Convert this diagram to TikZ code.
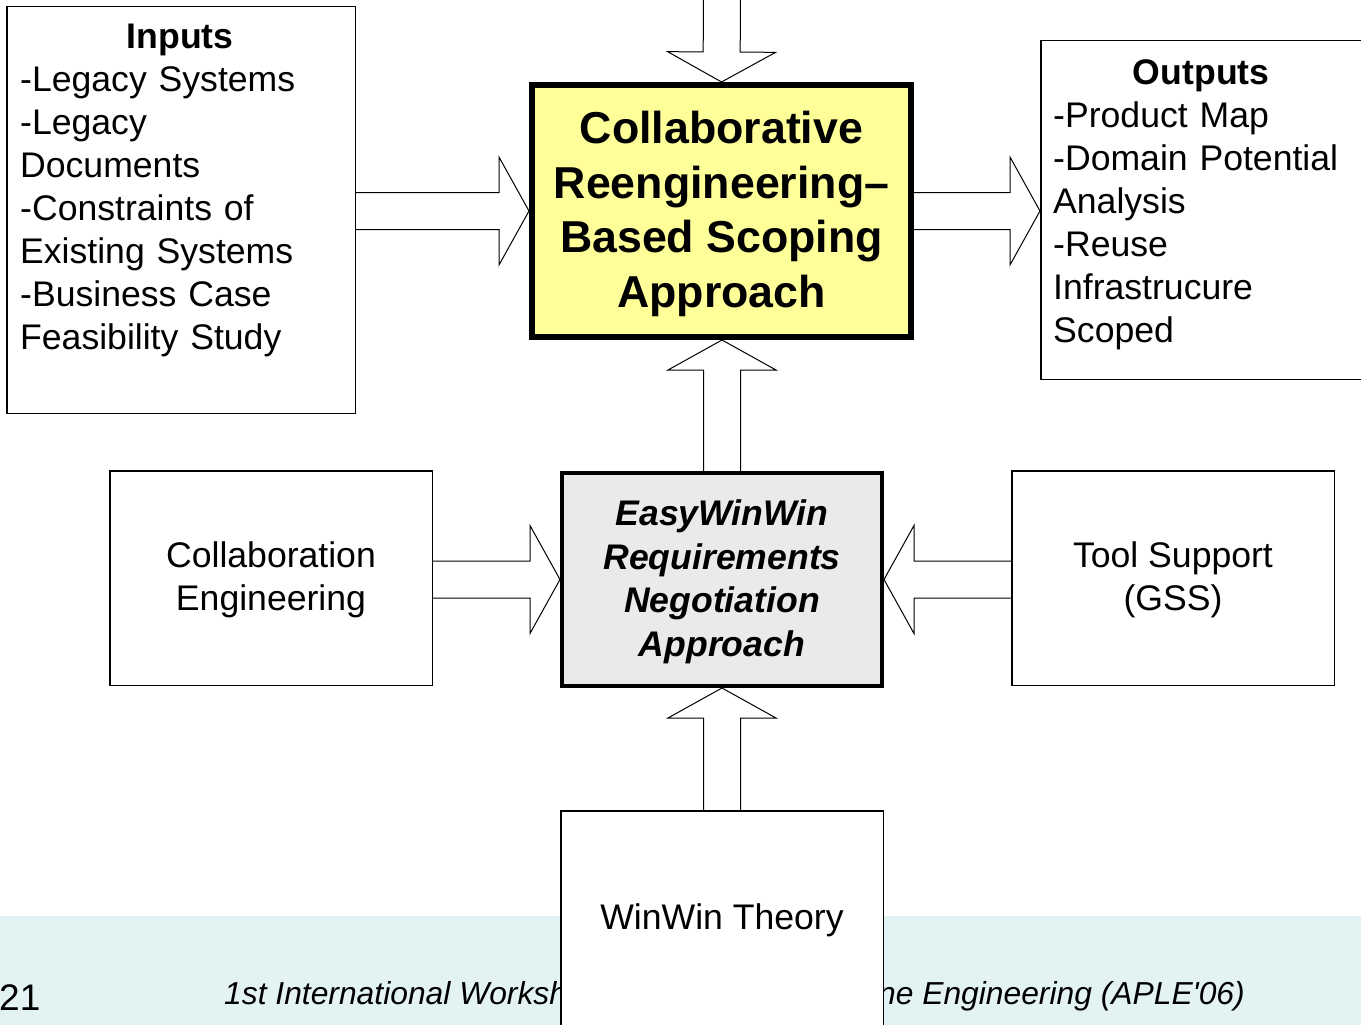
\documentclass[tikz,border=0pt]{standalone}
\usepackage{fontspec}
\setmainfont{Liberation Sans}[Ligatures=TeXOff]
\usetikzlibrary{calc,positioning,backgrounds}
\definecolor{colyel}{RGB}{255,255,153}
\definecolor{colgry}{RGB}{234,234,234}
\definecolor{colfoot}{RGB}{227,242,243}
\tikzstyle{box}=[draw, line width=1.5pt, fill=white, inner sep=0pt, align=center, font=\fontsize{35.6}{43}\selectfont]
\tikzstyle{core}=[draw, line width=6pt, fill=colyel, align=center, font=\bfseries\fontsize{44.7}{54.5}\selectfont]
\tikzstyle{nego}=[draw, line width=4pt, fill=colgry, align=center, font=\bfseries\itshape\fontsize{35.6}{43.6}\selectfont]
\tikzstyle{txt}=[inner sep=0pt, align=left, font=\fontsize{35.6}{43}\selectfont]
\tikzstyle{fat}=[draw, fill=white, line width=1pt, line join=miter]
\newcommand{\topstrut}[1]{\rule{0pt}{#1pt}}
% block arrow: #1 tail, #2 tip
\newcommand{\fatarrow}[2]{%
  \path (#1) coordinate (arrtail) (#2) coordinate (arrtip);
  \path ($(arrtip)!30pt!(arrtail)$) coordinate (arrbase);
  \draw[fat] ($(arrtail)!18.5pt!90:(arrtip)$) -- ($(arrbase)!18.5pt!90:(arrtip)$)
    -- ($(arrbase)!54pt!90:(arrtip)$) -- (arrtip) -- ($(arrbase)!54pt!-90:(arrtip)$)
    -- ($(arrbase)!18.5pt!-90:(arrtip)$) -- ($(arrtail)!18.5pt!-90:(arrtip)$);}

\begin{document}
\begin{tikzpicture}[x=1pt,y=-1pt]
\useasboundingbox (0,0) rectangle (1361,1025);
% inputs and outputs
\node[box, minimum width=348.5pt, minimum height=406.5pt] (inp) at (181,210) {};
\node[txt, text width=320pt, anchor=north west] (inptxt) at (20,24) {\makebox[320pt]{\textbf{Inputs}}\\-Legacy Systems\\-Legacy\\Documents\\-Constraints of\\Existing Systems\\-Business Case\\Feasibility Study};
\node[box, minimum width=322.5pt, minimum height=338.5pt] (outp) at (1202,210) {};
\node[txt, text width=296pt, anchor=north west] (outptxt) at (1053,59.5) {\makebox[296pt]{\textbf{Outputs}}\\-Product Map\\-Domain Potential\\Analysis\\-Reuse\\Infrastrucure\\Scoped};
% centre
\node[core, minimum width=379pt, minimum height=252pt] (core) at (721.5,211) {\topstrut{38}Collaborative\\Reengineering–\\Based Scoping\\Approach};
\node[nego, minimum width=320pt, minimum height=213pt] (nego) at (722,579.5) {\topstrut{30}EasyWinWin\\Requirements\\Negotiation\\Approach};
\node[box, minimum width=322.5pt, minimum height=214.5pt] (collab) at (271,578) {\topstrut{30}Collaboration\\Engineering};
\node[box, minimum width=322.5pt, minimum height=214.5pt] (tool) at (1173,578) {\topstrut{30}Tool Support\\(GSS)};
\node[box, minimum width=322.5pt, minimum height=214.5pt] (winwin) at (722,918) {\topstrut{30}WinWin Theory};
\coordinate (topin) at (722,-3);

\begin{scope}[on background layer]
  \fill[colfoot] (0,916) rectangle (1361,1025);
  \node[inner sep=0pt, anchor=base west, font=\fontsize{37}{44}\selectfont] (pgno) at (-1,1010) {21};
  \node[inner sep=0pt, anchor=west, font=\itshape\fontsize{31.8}{38}\selectfont] (foot) at (224,996) {1st International Workshop on Agile Product Line Engineering (APLE'06)};
  \fatarrow{topin}{core.north}
  \fatarrow{inp.east |- core.west}{core.west}
  \fatarrow{core.east}{outp.west |- core.east}
  \fatarrow{nego.north}{nego.north |- core.south}
  \fatarrow{collab.east |- nego.west}{nego.west}
  \fatarrow{tool.west |- nego.east}{nego.east}
  \fatarrow{winwin.north}{nego.south}
\end{scope}
\end{tikzpicture}
\end{document}
